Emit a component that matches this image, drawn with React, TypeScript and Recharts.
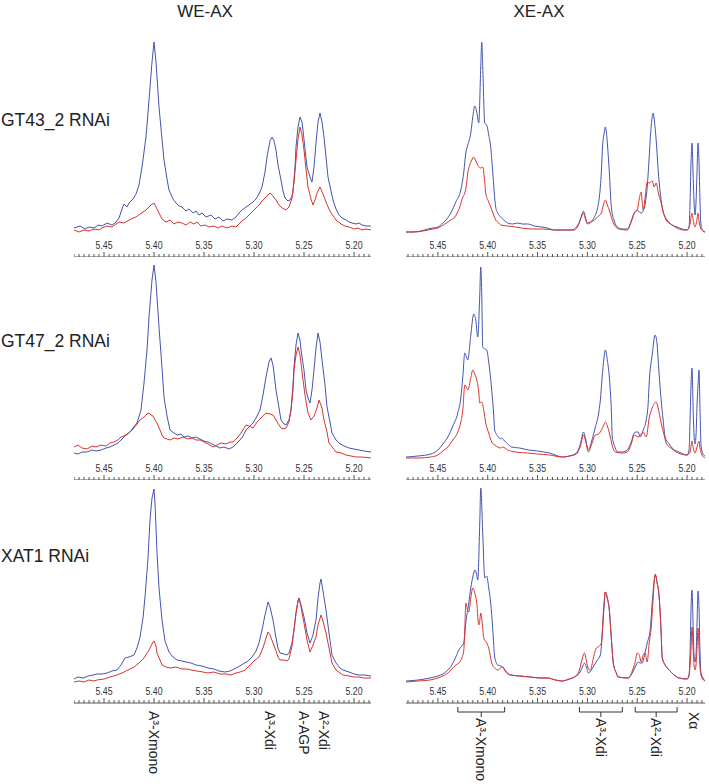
import React from "react";
import { LineChart, Line, XAxis, YAxis, ReferenceLine, ReferenceArea } from "recharts";

type Pt = [number, number]; // [ppm, intensity]

const rowNames = ["GT43_2 RNAi", "GT47_2 RNAi", "XAT1 RNAi"];
const colTitles = ["WE-AX", "XE-AX"];
const majorTicks = [5.45, 5.4, 5.35, 5.3, 5.25, 5.2];

// WE-AX, GT43_2 RNAi
const weGt43Blue: Pt[] = [
  [5.48, 29], [5.474, 31], [5.469, 28], [5.465, 30], [5.46, 29], [5.456, 32], [5.452, 31], [5.447, 34],
  [5.442, 32], [5.438, 35], [5.435, 39], [5.432, 48], [5.43, 53], [5.427, 50], [5.425, 54], [5.421, 58],
  [5.418, 63], [5.415, 72], [5.412, 90], [5.408, 120], [5.405, 157], [5.402, 195], [5.4, 215], [5.398, 195],
  [5.395, 150], [5.392, 118], [5.39, 97], [5.387, 78], [5.385, 67], [5.381, 58], [5.378, 54], [5.375, 51],
  [5.372, 50], [5.368, 46], [5.365, 48], [5.361, 44], [5.358, 46], [5.355, 42], [5.352, 44], [5.348, 40],
  [5.343, 42], [5.339, 38], [5.335, 40], [5.331, 36], [5.327, 38], [5.322, 37], [5.318, 40], [5.315, 44],
  [5.312, 47], [5.308, 50], [5.305, 52], [5.301, 55], [5.298, 58], [5.295, 63], [5.292, 70], [5.289, 85],
  [5.287, 100], [5.284, 116], [5.282, 120], [5.28, 116], [5.278, 107], [5.276, 92], [5.273, 77], [5.271, 66],
  [5.269, 59], [5.266, 56], [5.264, 57], [5.262, 61], [5.261, 65], [5.259, 90], [5.258, 110], [5.256, 130],
  [5.254, 140], [5.252, 135], [5.251, 127], [5.249, 108], [5.247, 90], [5.244, 80], [5.242, 75], [5.24, 90],
  [5.238, 114], [5.236, 135], [5.234, 144], [5.232, 135], [5.23, 120], [5.228, 100], [5.226, 80], [5.223, 66],
  [5.221, 57], [5.218, 48], [5.215, 42], [5.212, 39], [5.208, 37], [5.205, 35], [5.202, 34], [5.198, 33],
  [5.195, 34], [5.192, 32], [5.188, 31], [5.183, 31],
];
const weGt43Red: Pt[] = [
  [5.48, 27], [5.475, 25], [5.47, 27], [5.465, 26], [5.46, 28], [5.455, 27], [5.452, 29], [5.447, 31],
  [5.442, 30], [5.438, 33], [5.435, 35], [5.43, 34], [5.425, 37], [5.421, 39], [5.418, 40], [5.414, 43],
  [5.411, 45], [5.408, 47], [5.405, 50], [5.403, 52], [5.4, 54], [5.398, 50], [5.395, 44], [5.392, 38],
  [5.388, 35], [5.384, 37], [5.38, 33], [5.376, 35], [5.372, 34], [5.368, 32], [5.364, 35], [5.36, 33],
  [5.357, 35], [5.353, 31], [5.349, 32], [5.345, 30], [5.34, 31], [5.336, 29], [5.332, 31], [5.327, 29],
  [5.322, 31], [5.318, 30], [5.315, 33], [5.312, 36], [5.308, 39], [5.303, 44], [5.299, 48], [5.295, 52],
  [5.292, 56], [5.288, 60], [5.284, 64], [5.281, 61], [5.278, 57], [5.275, 52], [5.272, 49], [5.268, 47],
  [5.265, 50], [5.262, 59], [5.26, 75], [5.258, 97], [5.256, 118], [5.254, 130], [5.252, 122], [5.25, 107],
  [5.248, 88], [5.246, 70], [5.243, 58], [5.241, 52], [5.239, 57], [5.237, 64], [5.234, 70], [5.231, 63],
  [5.228, 55], [5.225, 48], [5.223, 44], [5.22, 40], [5.218, 37], [5.213, 33], [5.209, 31], [5.205, 30],
  [5.2, 28], [5.196, 29], [5.192, 27], [5.188, 28], [5.183, 27],
];

// WE-AX, GT47_2 RNAi
const weGt47Blue: Pt[] = [
  [5.48, 27], [5.476, 26], [5.472, 28], [5.467, 28], [5.462, 30], [5.458, 29], [5.453, 30], [5.448, 32],
  [5.444, 33], [5.44, 35], [5.436, 37], [5.433, 40], [5.429, 44], [5.425, 47], [5.421, 52], [5.417, 57],
  [5.413, 70], [5.41, 97], [5.407, 130], [5.405, 163], [5.402, 200], [5.4, 215], [5.398, 198], [5.395, 153],
  [5.392, 112], [5.39, 83], [5.387, 64], [5.384, 50], [5.38, 47], [5.377, 45], [5.373, 46], [5.37, 43],
  [5.366, 44], [5.362, 42], [5.358, 43], [5.354, 41], [5.35, 39], [5.346, 38], [5.342, 36], [5.338, 34],
  [5.334, 32], [5.33, 33], [5.325, 31], [5.321, 33], [5.317, 37], [5.314, 40], [5.311, 44], [5.308, 50],
  [5.304, 54], [5.301, 57], [5.298, 62], [5.294, 70], [5.291, 85], [5.288, 103], [5.285, 118], [5.283, 122],
  [5.281, 115], [5.278, 90], [5.275, 72], [5.273, 60], [5.27, 56], [5.268, 55], [5.265, 60], [5.263, 70],
  [5.261, 95], [5.26, 113], [5.258, 135], [5.256, 147], [5.254, 140], [5.253, 130], [5.25, 110], [5.248, 90],
  [5.246, 82], [5.244, 77], [5.242, 90], [5.24, 110], [5.238, 132], [5.236, 147], [5.234, 138], [5.232, 120],
  [5.229, 95], [5.227, 73], [5.224, 58], [5.222, 47], [5.218, 40], [5.215, 37], [5.21, 34], [5.205, 32],
  [5.2, 31], [5.195, 30], [5.19, 29], [5.183, 28],
];
const weGt47Red: Pt[] = [
  [5.48, 33], [5.476, 35], [5.472, 32], [5.467, 31], [5.462, 34], [5.458, 33], [5.453, 35], [5.448, 34],
  [5.444, 37], [5.44, 38], [5.436, 40], [5.433, 43], [5.428, 45], [5.424, 48], [5.42, 52], [5.417, 56],
  [5.414, 60], [5.41, 63], [5.407, 66], [5.405, 67], [5.403, 65], [5.401, 64], [5.399, 60], [5.397, 57],
  [5.394, 50], [5.392, 45], [5.39, 42], [5.387, 41], [5.384, 40], [5.38, 42], [5.376, 41], [5.371, 43],
  [5.366, 41], [5.362, 42], [5.358, 40], [5.354, 40], [5.35, 38], [5.346, 36], [5.341, 33], [5.337, 35],
  [5.333, 37], [5.328, 36], [5.324, 38], [5.321, 38], [5.317, 42], [5.313, 47], [5.308, 55], [5.305, 54],
  [5.301, 52], [5.297, 58], [5.293, 62], [5.288, 67], [5.284, 66], [5.281, 65], [5.278, 60], [5.275, 55],
  [5.273, 52], [5.27, 51], [5.268, 52], [5.265, 58], [5.263, 70], [5.261, 90], [5.26, 110], [5.258, 125],
  [5.256, 133], [5.254, 125], [5.251, 100], [5.249, 85], [5.246, 67], [5.243, 60], [5.24, 64], [5.237, 72],
  [5.235, 80], [5.232, 72], [5.23, 60], [5.227, 48], [5.225, 37], [5.221, 32], [5.218, 28], [5.213, 27],
  [5.208, 25], [5.203, 24], [5.198, 23], [5.192, 23], [5.183, 22],
];

// WE-AX, XAT1 RNAi
const weXat1Blue: Pt[] = [
  [5.48, 24], [5.476, 26], [5.471, 25], [5.466, 27], [5.461, 28], [5.457, 29], [5.452, 29], [5.447, 30],
  [5.442, 32], [5.437, 33], [5.433, 38], [5.429, 45], [5.425, 46], [5.42, 48], [5.417, 55], [5.414, 66],
  [5.411, 85], [5.409, 106], [5.406, 145], [5.404, 183], [5.402, 205], [5.4, 214], [5.399, 200], [5.397, 150],
  [5.395, 115], [5.392, 83], [5.389, 62], [5.385, 51], [5.381, 46], [5.377, 43], [5.372, 42], [5.368, 41],
  [5.363, 40], [5.358, 38], [5.352, 37], [5.346, 35], [5.34, 34], [5.335, 32], [5.329, 31], [5.324, 32],
  [5.32, 34], [5.316, 36], [5.311, 39], [5.306, 42], [5.302, 46], [5.298, 52], [5.295, 60], [5.292, 73],
  [5.289, 88], [5.286, 101], [5.284, 96], [5.281, 83], [5.278, 65], [5.276, 55], [5.274, 50], [5.27, 49],
  [5.267, 48], [5.265, 50], [5.262, 60], [5.26, 73], [5.258, 90], [5.256, 102], [5.255, 105], [5.253, 98],
  [5.25, 86], [5.247, 70], [5.244, 60], [5.241, 68], [5.238, 83], [5.236, 105], [5.234, 120], [5.233, 124],
  [5.231, 112], [5.228, 93], [5.225, 70], [5.222, 48], [5.218, 40], [5.214, 35], [5.211, 33], [5.205, 31],
  [5.2, 29], [5.195, 28], [5.19, 28], [5.183, 27],
];
const weXat1Red: Pt[] = [
  [5.48, 21], [5.475, 22], [5.47, 21], [5.465, 23], [5.46, 22], [5.457, 23], [5.45, 24], [5.444, 26],
  [5.437, 28], [5.432, 30], [5.426, 33], [5.42, 36], [5.415, 40], [5.41, 45], [5.407, 50], [5.405, 53],
  [5.403, 57], [5.401, 61], [5.4, 62], [5.398, 57], [5.397, 50], [5.394, 43], [5.392, 38], [5.388, 36],
  [5.384, 35], [5.378, 36], [5.372, 34], [5.367, 34], [5.363, 33], [5.357, 32], [5.351, 31], [5.346, 30],
  [5.34, 31], [5.334, 29], [5.328, 29], [5.323, 28], [5.318, 30], [5.314, 31], [5.309, 33], [5.304, 38],
  [5.3, 42], [5.295, 46], [5.291, 55], [5.288, 65], [5.286, 71], [5.284, 68], [5.281, 60], [5.278, 52],
  [5.276, 46], [5.274, 43], [5.27, 43], [5.267, 42], [5.265, 44], [5.262, 57], [5.26, 73], [5.258, 90],
  [5.256, 102], [5.255, 105], [5.253, 96], [5.25, 80], [5.247, 63], [5.244, 51], [5.241, 58], [5.238, 66],
  [5.236, 78], [5.233, 88], [5.231, 82], [5.228, 70], [5.225, 55], [5.222, 40], [5.218, 33], [5.214, 30],
  [5.211, 28], [5.205, 27], [5.2, 26], [5.195, 26], [5.19, 25], [5.183, 25],
];

// XE-AX, GT43_2 RNAi
const xeGt43Blue: Pt[] = [
  [5.482, 25], [5.475, 25], [5.467, 26], [5.46, 28], [5.455, 29], [5.45, 30], [5.445, 34], [5.441, 38],
  [5.437, 44], [5.432, 55], [5.427, 67], [5.424, 85], [5.422, 104], [5.42, 112], [5.417, 124], [5.415, 140],
  [5.413, 151], [5.411, 145], [5.409, 134], [5.407, 190], [5.406, 215], [5.405, 190], [5.403, 134], [5.401, 132],
  [5.399, 122], [5.397, 110], [5.395, 85], [5.392, 50], [5.39, 44], [5.387, 40], [5.384, 37], [5.38, 34],
  [5.375, 33], [5.37, 34], [5.365, 33], [5.36, 33], [5.353, 31], [5.346, 30], [5.34, 29], [5.333, 27],
  [5.325, 27], [5.316, 27], [5.311, 30], [5.308, 35], [5.305, 44], [5.304, 46], [5.302, 40], [5.3, 34],
  [5.297, 35], [5.293, 40], [5.29, 48], [5.288, 60], [5.286, 85], [5.285, 107], [5.283, 125], [5.282, 130],
  [5.281, 125], [5.28, 114], [5.278, 85], [5.276, 50], [5.273, 36], [5.27, 30], [5.265, 28], [5.26, 28],
  [5.256, 36], [5.253, 44], [5.25, 47], [5.248, 45], [5.246, 44], [5.243, 49], [5.24, 70], [5.238, 100],
  [5.237, 117], [5.235, 140], [5.234, 144], [5.233, 138], [5.231, 117], [5.229, 87], [5.227, 65], [5.225, 50],
  [5.222, 40], [5.22, 37], [5.215, 32], [5.21, 30], [5.205, 28], [5.2, 27], [5.198, 30], [5.197, 55],
  [5.196, 95], [5.195, 114], [5.194, 85], [5.193, 55], [5.192, 42], [5.191, 55], [5.19, 85], [5.189, 114],
  [5.188, 95], [5.187, 55], [5.186, 32], [5.184, 26], [5.182, 25],
];
const xeGt43Red: Pt[] = [
  [5.482, 25], [5.475, 25], [5.465, 26], [5.455, 28], [5.45, 29], [5.443, 33], [5.437, 37], [5.433, 40],
  [5.428, 50], [5.425, 60], [5.423, 64], [5.421, 75], [5.42, 84], [5.418, 92], [5.416, 97], [5.414, 100],
  [5.412, 96], [5.411, 94], [5.409, 90], [5.407, 89], [5.405, 90], [5.403, 75], [5.402, 64], [5.399, 55],
  [5.397, 50], [5.394, 42], [5.392, 37], [5.389, 34], [5.387, 32], [5.38, 31], [5.372, 30], [5.366, 29],
  [5.355, 28], [5.345, 28], [5.333, 27], [5.32, 27], [5.313, 27], [5.309, 32], [5.306, 40], [5.304, 44],
  [5.302, 38], [5.3, 33], [5.296, 35], [5.293, 37], [5.29, 40], [5.286, 44], [5.284, 52], [5.282, 57],
  [5.28, 52], [5.278, 47], [5.275, 37], [5.273, 32], [5.268, 28], [5.26, 27], [5.256, 35], [5.253, 44],
  [5.25, 47], [5.248, 58], [5.246, 65], [5.245, 55], [5.244, 47], [5.242, 60], [5.24, 75], [5.238, 74],
  [5.235, 76], [5.233, 70], [5.231, 74], [5.229, 65], [5.226, 54], [5.223, 42], [5.221, 37], [5.215, 32],
  [5.21, 29], [5.204, 27], [5.2, 27], [5.197, 33], [5.196, 40], [5.195, 44], [5.194, 38], [5.192, 30],
  [5.19, 38], [5.189, 44], [5.188, 36], [5.186, 28], [5.184, 26], [5.182, 25],
];

// XE-AX, GT47_2 RNAi
const xeGt47Blue: Pt[] = [
  [5.482, 23], [5.47, 24], [5.457, 26], [5.45, 30], [5.445, 36], [5.44, 43], [5.435, 54], [5.43, 67],
  [5.427, 82], [5.425, 103], [5.423, 127], [5.422, 125], [5.42, 120], [5.417, 145], [5.414, 166], [5.412, 160],
  [5.41, 143], [5.408, 185], [5.407, 213], [5.406, 185], [5.405, 133], [5.403, 131], [5.401, 130], [5.399, 118],
  [5.396, 90], [5.394, 65], [5.393, 50], [5.39, 44], [5.387, 41], [5.386, 42], [5.384, 40], [5.38, 36],
  [5.376, 33], [5.368, 32], [5.359, 30], [5.35, 29], [5.338, 27], [5.325, 23], [5.318, 24], [5.311, 27],
  [5.307, 36], [5.304, 48], [5.302, 42], [5.299, 30], [5.296, 38], [5.292, 53], [5.289, 65], [5.287, 80],
  [5.285, 105], [5.283, 125], [5.282, 130], [5.28, 120], [5.278, 103], [5.276, 70], [5.275, 43], [5.272, 32],
  [5.27, 28], [5.265, 28], [5.26, 30], [5.256, 38], [5.253, 47], [5.251, 48], [5.249, 48], [5.247, 43],
  [5.244, 50], [5.241, 60], [5.239, 77], [5.238, 97], [5.235, 125], [5.232, 145], [5.23, 135], [5.229, 120],
  [5.226, 80], [5.224, 60], [5.222, 43], [5.218, 36], [5.215, 32], [5.208, 28], [5.2, 25], [5.198, 30],
  [5.197, 60], [5.196, 95], [5.195, 112], [5.194, 75], [5.193, 45], [5.192, 36], [5.191, 45], [5.19, 75],
  [5.189, 95], [5.188, 110], [5.187, 70], [5.186, 35], [5.184, 26], [5.182, 24],
];
const xeGt47Red: Pt[] = [
  [5.482, 22], [5.47, 22], [5.457, 23], [5.45, 25], [5.445, 29], [5.44, 33], [5.435, 40], [5.43, 48],
  [5.427, 58], [5.425, 70], [5.423, 95], [5.421, 92], [5.42, 90], [5.417, 102], [5.415, 110], [5.413, 106],
  [5.411, 100], [5.409, 88], [5.408, 77], [5.406, 78], [5.404, 70], [5.402, 57], [5.399, 47], [5.396, 38],
  [5.393, 35], [5.39, 33], [5.387, 32], [5.385, 33], [5.38, 30], [5.372, 28], [5.36, 27], [5.35, 26],
  [5.338, 25], [5.325, 23], [5.318, 24], [5.311, 26], [5.307, 34], [5.304, 45], [5.302, 40], [5.299, 28],
  [5.296, 35], [5.292, 45], [5.289, 46], [5.287, 48], [5.284, 54], [5.282, 58], [5.28, 54], [5.277, 43],
  [5.275, 34], [5.272, 28], [5.265, 27], [5.26, 28], [5.256, 36], [5.253, 45], [5.251, 44], [5.249, 43],
  [5.246, 46], [5.244, 48], [5.241, 43], [5.238, 62], [5.235, 72], [5.231, 78], [5.229, 72], [5.226, 57],
  [5.223, 45], [5.221, 37], [5.215, 31], [5.209, 27], [5.2, 25], [5.197, 28], [5.196, 34], [5.195, 39],
  [5.194, 33], [5.192, 27], [5.19, 33], [5.189, 37], [5.188, 39], [5.187, 32], [5.185, 25], [5.182, 22],
];

// XE-AX, XAT1 RNAi
const xeXat1Blue: Pt[] = [
  [5.482, 22], [5.47, 23], [5.458, 25], [5.45, 27], [5.445, 29], [5.44, 33], [5.436, 38], [5.432, 46],
  [5.429, 53], [5.426, 57], [5.424, 60], [5.422, 80], [5.419, 100], [5.417, 115], [5.416, 121], [5.414, 130],
  [5.413, 133], [5.411, 128], [5.41, 123], [5.408, 180], [5.407, 215], [5.405, 170], [5.403, 125], [5.401, 127],
  [5.399, 115], [5.397, 100], [5.395, 75], [5.393, 46], [5.39, 38], [5.387, 37], [5.385, 36], [5.382, 32],
  [5.377, 28], [5.368, 27], [5.357, 26], [5.348, 25], [5.34, 25], [5.332, 23], [5.326, 22], [5.318, 24],
  [5.313, 26], [5.308, 30], [5.305, 36], [5.303, 40], [5.301, 36], [5.299, 30], [5.296, 33], [5.293, 38],
  [5.29, 43], [5.287, 48], [5.285, 70], [5.283, 100], [5.282, 111], [5.28, 105], [5.278, 93], [5.276, 65],
  [5.274, 40], [5.271, 30], [5.269, 26], [5.259, 25], [5.255, 30], [5.252, 36], [5.249, 41], [5.247, 40],
  [5.245, 40], [5.242, 51], [5.24, 60], [5.237, 73], [5.235, 100], [5.233, 122], [5.232, 128], [5.23, 120],
  [5.228, 106], [5.226, 70], [5.225, 46], [5.222, 38], [5.218, 33], [5.213, 28], [5.208, 25], [5.2, 24],
  [5.198, 28], [5.197, 50], [5.196, 95], [5.195, 113], [5.194, 80], [5.193, 48], [5.192, 41], [5.191, 48],
  [5.19, 80], [5.189, 112], [5.188, 95], [5.187, 50], [5.186, 30], [5.184, 25], [5.182, 22],
];
const xeXat1Red: Pt[] = [
  [5.482, 21], [5.47, 22], [5.458, 23], [5.45, 25], [5.445, 27], [5.44, 30], [5.436, 34], [5.432, 38],
  [5.428, 41], [5.426, 45], [5.424, 53], [5.423, 75], [5.422, 100], [5.42, 92], [5.419, 91], [5.417, 105],
  [5.415, 115], [5.413, 110], [5.411, 100], [5.409, 78], [5.408, 82], [5.407, 90], [5.405, 75], [5.404, 65],
  [5.401, 60], [5.399, 55], [5.396, 40], [5.393, 35], [5.39, 33], [5.387, 35], [5.385, 36], [5.382, 31],
  [5.377, 28], [5.368, 27], [5.357, 26], [5.348, 25], [5.34, 25], [5.332, 23], [5.326, 22], [5.318, 24],
  [5.313, 26], [5.308, 33], [5.305, 45], [5.303, 50], [5.301, 42], [5.299, 34], [5.297, 33], [5.294, 45],
  [5.291, 55], [5.288, 57], [5.286, 60], [5.284, 90], [5.282, 111], [5.28, 105], [5.278, 93], [5.276, 65],
  [5.274, 40], [5.271, 30], [5.269, 26], [5.259, 25], [5.255, 32], [5.252, 41], [5.25, 50], [5.248, 48],
  [5.246, 41], [5.244, 48], [5.242, 50], [5.24, 41], [5.238, 60], [5.236, 75], [5.234, 105], [5.232, 129],
  [5.23, 120], [5.228, 106], [5.226, 70], [5.225, 46], [5.222, 38], [5.218, 33], [5.213, 28], [5.208, 25],
  [5.2, 24], [5.198, 28], [5.196, 55], [5.195, 76], [5.194, 55], [5.193, 38], [5.192, 33], [5.191, 38],
  [5.19, 55], [5.189, 75], [5.188, 55], [5.187, 35], [5.185, 25], [5.182, 22],
];

// peak assignments
const wePeakLabels = [
  { ppm: 5.4, text: "A³-Xmono" },
  { ppm: 5.284, text: "A³-Xdi" },
  { ppm: 5.25, text: "A-AGP" },
  { ppm: 5.23, text: "A²-Xdi" },
];
const xeRegions = [
  { from: 5.43, to: 5.383, text: "A³-Xmono" },
  { from: 5.308, to: 5.265, text: "A³-Xdi" },
  { from: 5.252, to: 5.21, text: "A²-Xdi" },
];
const xeSingleLabel = { ppm: 5.193, text: "Xα" };

const weRows = [
  [weGt43Blue, weGt43Red],
  [weGt47Blue, weGt47Red],
  [weXat1Blue, weXat1Red],
];
const xeRows = [
  [xeGt43Blue, xeGt43Red],
  [xeGt47Blue, xeGt47Red],
  [xeXat1Blue, xeXat1Red],
];

const FONT = "'Liberation Sans', Arial, Helvetica, sans-serif";
const BLUE = "#4454b0";
const RED = "#d8352f";
const PLOT_H = 215;
const ROW_TOP = [42, 265, 488];
const COLS = [
  { left: 74, width: 297, domain: [5.183, 5.48] as [number, number], smooth: false },
  { left: 406, width: 299, domain: [5.182, 5.482] as [number, number], smooth: true },
];

const tickList: number[] = [];
for (let i = 0; i <= 59; i++) tickList.push(Math.round((5.185 + i * 0.005) * 1000) / 1000);

const toPts = (arr: Pt[]) => arr.map(([ppm, v]) => ({ ppm, v }));

const AxisTick = (props: any) => {
  const { x, y, payload } = props;
  const v = payload.value as number;
  const major = majorTicks.some((m) => Math.abs(m - v) < 1e-6);
  return (
    <g>
      <line x1={x} x2={x} y1={y} y2={y - (major ? 5 : 3)} stroke="#555" strokeWidth={1} />
      {major && (
        <text
          x={x}
          y={y - 8}
          textAnchor="middle"
          fontSize={11}
          fontFamily={FONT}
          fill="#333"
          textLength={17}
          lengthAdjust="spacingAndGlyphs"
        >
          {v.toFixed(2)}
        </text>
      )}
    </g>
  );
};

const RotLabel = ({ x, y, text }: { x: number; y: number; text: string }) => (
  <text
    transform={`translate(${x},${y}) rotate(90)`}
    fontSize={14}
    fontFamily={FONT}
    fill="#222"
    dominantBaseline="central"
  >
    {text}
  </text>
);

const Bracket = (p: any) => {
  const b = p.y + p.height;
  const l = p.x;
  const r = p.x + p.width;
  const c = (l + r) / 2;
  return (
    <g>
      <path d={`M${l},${b + 4} V${b + 9} H${r} V${b + 4}`} fill="none" stroke="#333" strokeWidth={1} />
      <line x1={c} x2={c} y1={b + 9} y2={b + 14} stroke="#333" strokeWidth={1} />
      <RotLabel x={c} y={b + 15} text={p.label} />
    </g>
  );
};

function Panel({ col, row }: { col: number; row: number }) {
  const c = COLS[col];
  const [blue, red] = col === 0 ? weRows[row] : xeRows[row];
  const extra = row === 2 ? 81 : 0;
  const lineType = c.smooth ? "monotone" : "linear";
  return (
    <div style={{ position: "absolute", left: c.left, top: ROW_TOP[row] }}>
      <LineChart width={c.width} height={PLOT_H + extra} margin={{ top: 0, right: 0, bottom: extra, left: 0 }}>
        <XAxis
          type="number"
          dataKey="ppm"
          domain={c.domain}
          reversed
          allowDataOverflow
          ticks={tickList}
          interval={0}
          mirror
          height={1}
          tickSize={0}
          tickMargin={0}
          axisLine={false}
          tickLine={false}
          tick={<AxisTick />}
        />
        <YAxis hide domain={[0, PLOT_H]} allowDataOverflow />
        <ReferenceLine y={0} stroke="#555" strokeWidth={1} />
        <Line data={toPts(blue)} dataKey="v" type={lineType} stroke={BLUE} strokeWidth={1} dot={false} isAnimationActive={false} />
        <Line data={toPts(red)} dataKey="v" type={lineType} stroke={RED} strokeWidth={1} dot={false} isAnimationActive={false} />
        {row === 2 && col === 0 &&
          wePeakLabels.map((a) => (
            <ReferenceLine
              key={a.text}
              x={a.ppm}
              stroke="none"
              shape={(p: any) => <RotLabel x={p.x1} y={Math.max(p.y1, p.y2) + 8} text={a.text} />}
            />
          ))}
        {row === 2 && col === 1 &&
          xeRegions.map((r) => (
            <ReferenceArea
              key={r.text}
              x1={r.from}
              x2={r.to}
              fillOpacity={0}
              strokeOpacity={0}
              shape={(p: any) => <Bracket {...p} label={r.text} />}
            />
          ))}
        {row === 2 && col === 1 && (
          <ReferenceLine
            x={xeSingleLabel.ppm}
            stroke="none"
            shape={(p: any) => <RotLabel x={p.x1} y={Math.max(p.y1, p.y2) + 9} text={xeSingleLabel.text} />}
          />
        )}
      </LineChart>
    </div>
  );
}

export default function App() {
  return (
    <div style={{ position: "absolute", left: 0, top: 0, width: 709, height: 784, background: "#fff", fontFamily: FONT }}>
      {[0, 1, 2].map((r) => (
        <React.Fragment key={r}>
          <Panel col={0} row={r} />
          <Panel col={1} row={r} />
        </React.Fragment>
      ))}
      <svg width={709} height={784} style={{ position: "absolute", left: 0, top: 0, pointerEvents: "none" }}>
        <text x={205} y={17} textAnchor="middle" fontSize={17} fontFamily={FONT} fill="#222">{colTitles[0]}</text>
        <text x={539} y={17} textAnchor="middle" fontSize={17} fontFamily={FONT} fill="#222">{colTitles[1]}</text>
        <text x={1} y={126} fontSize={17.5} fontFamily={FONT} fill="#222">{rowNames[0]}</text>
        <text x={1} y={347} fontSize={17.5} fontFamily={FONT} fill="#222">{rowNames[1]}</text>
        <text x={1} y={562} fontSize={17.5} fontFamily={FONT} fill="#222">{rowNames[2]}</text>
      </svg>
    </div>
  );
}
